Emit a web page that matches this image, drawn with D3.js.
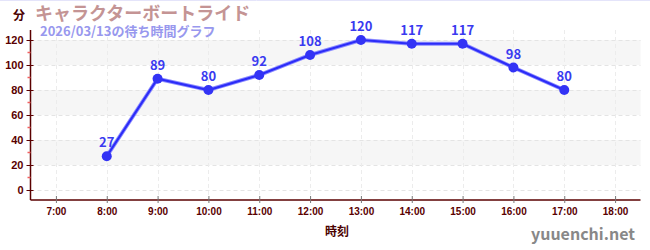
<!DOCTYPE html>
<html>
<head>
<meta charset="utf-8">
<script src="https://cdn.jsdelivr.net/npm/d3@7"></script>
<style>
  html, body { margin: 0; padding: 0; background: #fff; }
  body { width: 650px; height: 250px; overflow: hidden; }
  svg { display: block; font-family: "Noto Sans CJK JP", "Noto Sans", sans-serif; }
</style>
</head>
<body>
<div id="main"></div>
<script>
"use strict";

// wait times per hour
var hours = [8, 9, 10, 11, 12, 13, 14, 15, 16, 17];
var waits = [27, 89, 80, 92, 108, 120, 117, 117, 98, 80];
var xTicks = [7, 8, 9, 10, 11, 12, 13, 14, 15, 16, 17, 18];
var yTicks = [0, 20, 40, 60, 80, 100, 120];
var yMinor = [10, 30, 50, 70, 90, 110];
var bands = [[20, 40], [60, 80], [100, 120]];

var title = "キャラクターボートライド";
var subtitle = "2026/03/13の待ち時間グラフ";

var W = 650, H = 250;
var plotL = 30.5, plotR = 640.5, plotT = 30, plotB = 200;
var axisColor = "#5a0000";

var svg = d3.select("#main").append("svg").attr("width", W).attr("height", H);

svg.append("line").attr("x1", 0).attr("x2", W).attr("y1", 0.5).attr("y2", 0.5)
    .attr("stroke", "#e4e4fa").attr("stroke-width", 1);

var x = d3.scaleLinear().domain([6.5, 18.5]).range([plotL, plotR]);
var y = d3.scaleLinear().domain([-8, 128]).range([plotB, plotT]);

// stripes
svg.append("g").selectAll("rect").data(bands).join("rect")
    .attr("x", plotL).attr("width", plotR - plotL)
    .attr("y", function(d){ return y(d[1]); })
    .attr("height", function(d){ return y(d[0]) - y(d[1]); })
    .attr("fill", "#f6f6f6");

// grid
svg.append("g").selectAll("line").data(yTicks).join("line")
    .attr("x1", plotL).attr("x2", plotR)
    .attr("y1", function(d){ return y(d) + 0.5; }).attr("y2", function(d){ return y(d) + 0.5; })
    .attr("stroke", "#e4e4e4").attr("stroke-dasharray", "4,3");
svg.append("g").selectAll("line").data(xTicks).join("line")
    .attr("x1", function(d){ return Math.round(x(d)) + 0.5; })
    .attr("x2", function(d){ return Math.round(x(d)) + 0.5; })
    .attr("y1", plotT).attr("y2", plotB)
    .attr("stroke", "#ececec").attr("stroke-dasharray", "4,3");

// y axis
var yAxis = svg.append("g").attr("transform", "translate(" + plotL + ",0)")
    .call(d3.axisLeft(y).tickValues(yTicks).tickSize(4).tickPadding(3));
yAxis.select(".domain").attr("stroke", axisColor).attr("stroke-width", 1.5)
    .attr("d", "M0," + plotT + "V" + plotB);
yAxis.selectAll(".tick line").attr("stroke", axisColor).attr("x2", 3).attr("x1", -4);
yAxis.selectAll(".tick text").attr("fill", axisColor)
    .style("font-size", "11px").style("font-weight", "bold");
svg.append("g").selectAll("line").data(yMinor).join("line")
    .attr("x1", plotL - 3).attr("x2", plotL)
    .attr("y1", function(d){ return y(d); }).attr("y2", function(d){ return y(d); })
    .attr("stroke", "#f06060").attr("stroke-width", 1.5);

// x axis
var xAxis = svg.append("g").attr("transform", "translate(0," + plotB + ")")
    .call(d3.axisBottom(x).tickValues(xTicks).tickSize(3).tickPadding(5)
        .tickFormat(function(d){ return d + ":00"; }));
xAxis.select(".domain").attr("stroke", axisColor).attr("stroke-width", 1.5)
    .attr("d", "M" + plotL + ",0H" + plotR);
xAxis.selectAll(".tick line").attr("stroke", "#777").attr("y1", -4).attr("y2", 3);
xAxis.selectAll(".tick text").attr("fill", axisColor)
    .style("font-size", "10px").style("font-weight", "bold");

// line + points
var line = d3.line().x(function(d, i){ return x(hours[i]); }).y(function(d){ return y(d); });
svg.append("path").datum(waits).attr("d", line)
    .attr("fill", "none").attr("stroke", "#8c8cff").attr("stroke-width", 4);
svg.append("path").datum(waits).attr("d", line)
    .attr("fill", "none").attr("stroke", "#2c2cf8").attr("stroke-width", 2.2);
svg.append("g").selectAll("circle").data(waits).join("circle")
    .attr("cx", function(d, i){ return x(hours[i]); })
    .attr("cy", function(d){ return y(d); })
    .attr("r", 5).attr("fill", "#3333f5");
svg.append("g").selectAll("text").data(waits).join("text")
    .attr("x", function(d, i){ return x(hours[i]); })
    .attr("y", function(d){ return y(d) - 9; })
    .attr("text-anchor", "middle")
    .attr("fill", "#3a3af0").style("font-size", "13px").style("font-weight", "bold")
    .text(function(d){ return d; });

// texts
svg.append("text").attr("x", 13).attr("y", 20).attr("fill", "#4a0000")
    .style("font-size", "12px").style("font-weight", "bold").text("分");
svg.append("text").attr("x", 35).attr("y", 20).attr("fill", "#c49494")
    .style("font-size", "18px").style("font-weight", "bold").text(title);
svg.append("text").attr("x", 40).attr("y", 36).attr("fill", "#9898ee")
    .style("font-size", "13px").style("font-weight", "bold").text(subtitle);
svg.append("text").attr("x", 337).attr("y", 236).attr("text-anchor", "middle").attr("fill", "#4a0000")
    .style("font-size", "12px").style("font-weight", "bold").text("時刻");
svg.append("text").attr("x", 635).attr("y", 240).attr("text-anchor", "end").attr("fill", "#888")
    .style("font-size", "16px").style("font-weight", "bold").text("yuuenchi.net");
</script>
</body>
</html>
